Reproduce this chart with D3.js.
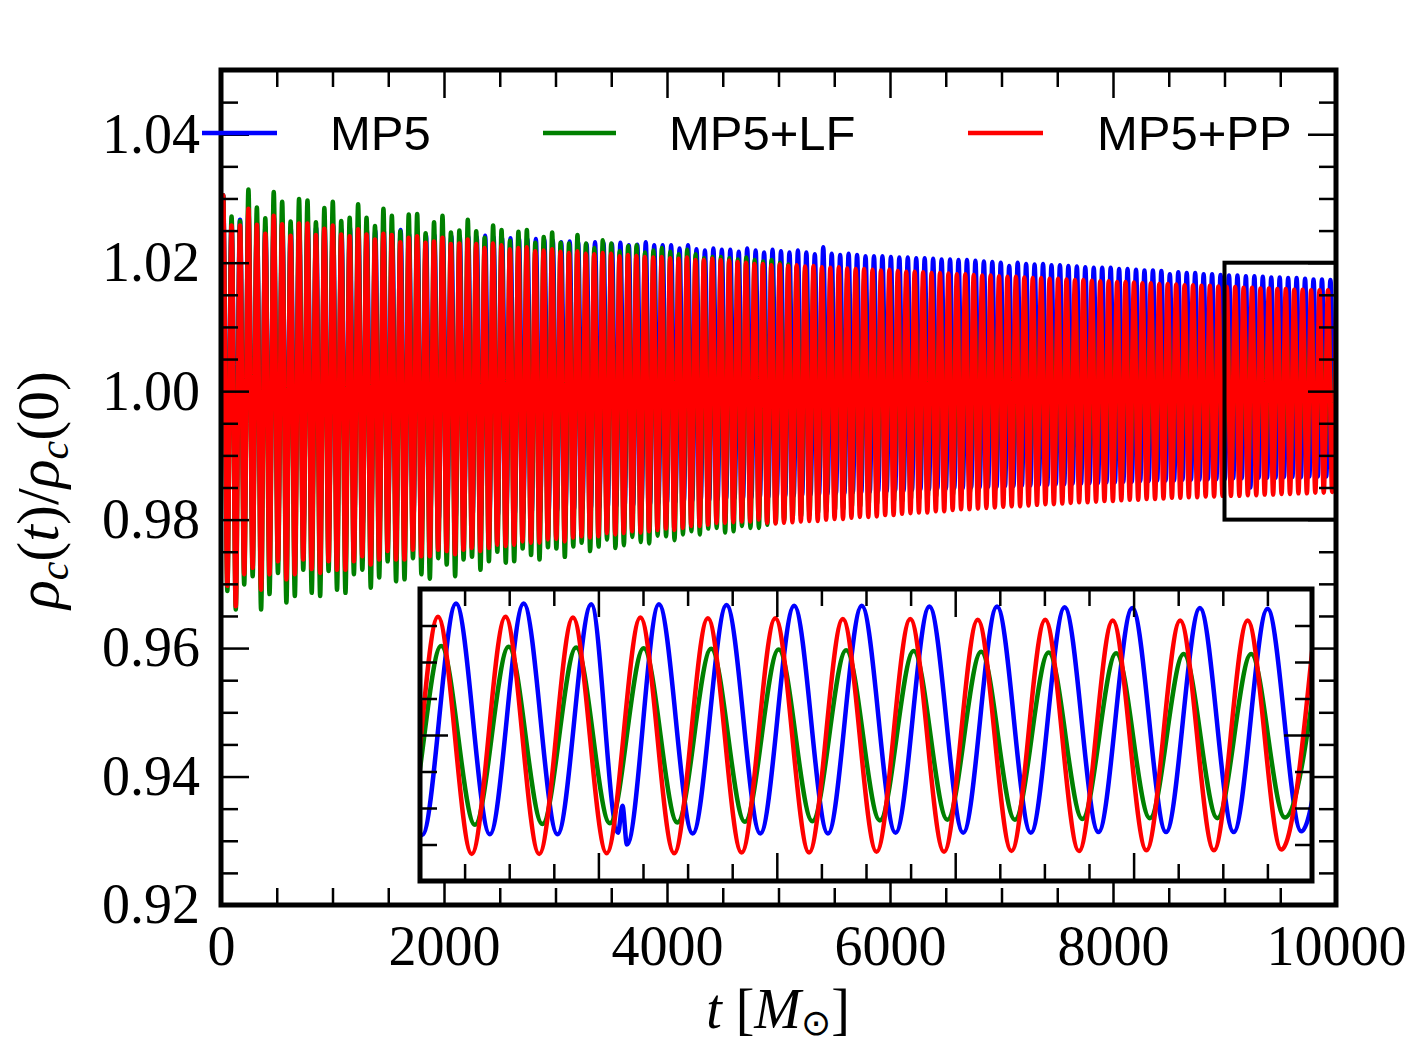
<!DOCTYPE html>
<html>
<head>
<meta charset="utf-8">
<script src="https://cdn.jsdelivr.net/npm/d3@7"></script>
<style>
  body { margin: 0; background: #fff; }
  svg { display: block; }
</style>
</head>
<body>
<svg id="chart" width="1415" height="1048"></svg>
<script>
// ---- data ----
// extrema of rho_c(t)/rho_c(0), stored as (value - 1) * 1e4, one entry per oscillation
// first maximum at t0, then alternating min / max every half period
var seriesNames = ["MP5", "MP5+LF", "MP5+PP"];
var seriesColors = ["#0000ff", "#008000", "#ff0000"];
var t0 = 19;
var periods = [75.81, 75.67, 75.64];

var blueMax = [305,262,267,280,262,255,270,262,255,262,260,255,258,260,252,255,256,252,250,252,
  250,251,245,245,243,243,242,242,241,241,240,242,240,239,238,238,237,237,236,235,
  232,233,232,229,232,231,229,231,227,228,232,227,227,227,222,227,221,219,222,220,
  220,217,222,219,216,220,
  218,216,219,216,213,224,214,212,214,212,
  210,210,210,209,208,208,207,207,206,205,
  205,204,204,203,202,201,200,195,200,198,
  197,198,196,196,195,194,193,192,192,192,
  190,190,189,188,188,187,182,185,184,184,
  182,182,181,180,180,179,179,178,177,177,
  176,176,175,174,174,173,172];
var blueMin = [-235,-230,-228,-226,-224,-222,-220,-219,-218,-217,
  -216,-215,-214,-213,-212,-211,-210,-209,-208,-207,
  -206,-205,-204,-203,-202,-201,-200,-199,-198,-197,
  -196,-195,-194,-193,-192,-191,-190,-189,-188,-187,
  -186,-185,-184,-183,-182,-181,-180,-179,-178,-177,
  -176,-175,-174,-173,-172,-171,-170,-170,-169,-168,
  -167,-167,-166,-165,-165,-164,-163,-163,-162,-161,
  -161,-160,-159,-159,-158,-158,-157,-156,-156,-155,
  -155,-154,-153,-153,-152,-152,-151,-151,-150,-150,
  -149,-149,-148,-148,-147,-147,-146,-146,-145,-145,
  -144,-144,-143,-143,-142,-142,-141,-141,-140,-140,
  -139,-139,-139,-138,-138,-138,-137,-137,-137,-136,
  -136,-136,-135,-135,-135,-134,-134,-134,-133,-133,
  -133,-132];
// small numerical glitch of MP5 near t = 9230 (seen in the inset)
var blueGlitchT = [9222, 9227, 9232];
var blueGlitchU = [-134, -97, -150];

var greenMax = [305,272,265,314,286,269,310,295,264,299,297,
  263,285,295,265,270,291,270,257,284,273,
  249,275,276,246,263,273,247,250,267,249,
  239,258,251,234,248,251,231,240,247,231,
  230,243,230,223,235,230,218,226,227,216,
  219,223,217,213,220,213,207,209,209,207,
  205,208,204,202,204,
  200,197,194,190,188,186,184,183,181,179,
  177,176,174,172,171,169,167,166,164,163,
  161,160,158,157,155,154,152,151,150,148,
  147,146,144,143,142,141,139,138,137,136,
  135,134,133,132,131,130,129,128,127,126,
  125,124,123,122,121,120,119,118,117,116,
  115,114,113,112,111,111,110];
var greenMin = [-311,-340,-301,-288,-340,-316,-283,-329,-319,-278,
  -314,-319,-280,-309,-314,-285,-278,-306,-290,-265,
  -296,-293,-260,-285,-292,-260,-270,-288,-262,-258,
  -278,-265,-250,-267,-265,-245,-255,-262,-243,-245,
  -258,-242,-236,-249,-242,-231,-244,-240,-227,-235,
  -237,-225,-226,-232,-223,-218,-223,-214,-213,-220,
  -218,-210,-213,-213,
  -208,-205,-201,-198,-195,-193,-190,-188,-186,-184,
  -182,-180,-178,-176,-174,-172,-171,-169,-167,-166,
  -164,-162,-161,-159,-158,-156,-155,-154,-152,-151,
  -150,-148,-147,-146,-145,-144,-142,-141,-140,-139,
  -138,-137,-136,-135,-134,-133,-132,-131,-130,-129,
  -128,-127,-126,-125,-124,-123,-122,-121,-120,-119,
  -118,-117,-116,-116,-115,-114,-114,-113];

var redMax = [305,258,258,284,259,245,273,260,242,261,
  261,243,253,258,244,241,252,244,236,245,
  243,232,239,241,231,233,239,229,230,236,
  229,223,230,227,221,223,224,218,219,221,
  217,215,218,214,213,215,214,210,212,211,
  209,208,209,207,206,208,204,204,206,204,
  203,201,200,198,198,196,
  197,195,196,194,195,193,192,193,191,190,
  190,189,188,189,187,186,186,185,184,184,
  183,182,182,181,180,180,179,178,178,177,
  176,176,175,175,174,173,173,172,171,171,
  170,170,169,168,168,167,167,166,165,165,
  164,164,163,162,162,161,161,160,160,159,
  159,158,158,157,157,157,156];
var redMin = [-303,-335,-285,-275,-309,-285,-265,-293,-285,-262,
  -277,-283,-265,-278,-278,-265,-257,-270,-262,-249,
  -262,-262,-247,-257,-257,-247,-249,-254,-247,-244,
  -249,-244,-239,-241,-239,-234,-236,-236,-231,-230,
  -234,-228,-226,-228,-226,-221,-223,-221,-218,-220,
  -218,-216,-214,-216,-213,-210,-210,-208,-205,-205,
  -204,-203,-203,-200,
  -205,-206,-205,-204,-203,-202,-202,-200,-199,-199,
  -197,-196,-196,-195,-193,-193,-191,-190,-189,-189,
  -187,-187,-185,-184,-184,-183,-182,-181,-180,-179,
  -179,-178,-177,-176,-176,-175,-174,-173,-173,-172,
  -171,-171,-170,-169,-169,-168,-168,-167,-166,-166,
  -165,-165,-164,-164,-163,-163,-163,-162,-162,-161,
  -161,-160,-160,-159,-159,-158,-158,-157];

var xTicksMajor = [0, 2000, 4000, 6000, 8000, 10000];
var yTicksMajor = [0.92, 0.94, 0.96, 0.98, 1.00, 1.02, 1.04];
var zoomT = [9000, 10000];
var zoomRho = [0.98, 1.02];

// ---- build point lists ----
function toPoints(period, maxU, minU, glitchT, glitchU) {
  var pts = [[0, 1 + maxU[0] / 1e4]];
  maxU.forEach(function(u, k) {
    pts.push([t0 + k * period, 1 + u / 1e4]);
    if (k < minU.length) pts.push([t0 + (k + 0.5) * period, 1 + minU[k] / 1e4]);
  });
  if (glitchT) {
    pts = pts.filter(function(p) { return p[0] < glitchT[0] - 6 || p[0] > glitchT[glitchT.length - 1] + 6; });
    glitchT.forEach(function(t, i) { pts.push([t, 1 + glitchU[i] / 1e4]); });
    pts.sort(function(a, b) { return a[0] - b[0]; });
  }
  return pts;
}
var series = [
  toPoints(periods[0], blueMax, blueMin, blueGlitchT, blueGlitchU),
  toPoints(periods[1], greenMax, greenMin),
  toPoints(periods[2], redMax, redMin)
];

// ---- layout ----
var svg = d3.select("#chart");
var L = 221, R = 1336, T = 70, B = 905;
var x = d3.scaleLinear().domain([0, 10000]).range([L, R]);
var y = d3.scaleLinear().domain([0.92, 1.05]).range([B, T]);

var serif = "'Liberation Serif', 'Times New Roman', serif";
var sans = "'Liberation Sans', Arial, sans-serif";

var defs = svg.append("defs");
defs.append("clipPath").attr("id", "clipMain")
  .append("rect").attr("x", L).attr("y", T).attr("width", R - L).attr("height", B - T);

var lineMain = d3.line()
  .x(function(d) { return x(d[0]); })
  .y(function(d) { return y(d[1]); })
  .curve(d3.curveMonotoneX);

svg.append("g").attr("clip-path", "url(#clipMain)")
  .selectAll("path").data(series).enter().append("path")
  .attr("d", lineMain)
  .attr("fill", "none")
  .attr("stroke", function(d, i) { return seriesColors[i]; })
  .attr("stroke-width", 4.5)
  .attr("stroke-linejoin", "round")
  .attr("stroke-linecap", "round");

// zoom box
svg.append("rect")
  .attr("x", x(zoomT[0])).attr("y", y(zoomRho[1]))
  .attr("width", x(zoomT[1]) - x(zoomT[0])).attr("height", y(zoomRho[0]) - y(zoomRho[1]))
  .attr("fill", "none").attr("stroke", "#000").attr("stroke-width", 4);

// inward ticks on all four sides
function inwardTicks(xs, ys, box, xMinor, xMajor, yMinor, yMajor) {
  var sides = [
    [d3.axisTop, xs, "translate(0," + box.b + ")", xMinor, xMajor],
    [d3.axisBottom, xs, "translate(0," + box.t + ")", xMinor, xMajor],
    [d3.axisRight, ys, "translate(" + box.l + ",0)", yMinor, yMajor],
    [d3.axisLeft, ys, "translate(" + box.r + ",0)", yMinor, yMajor]
  ];
  sides.forEach(function(s) {
    [[s[3], 17], [s[4], 28]].forEach(function(set) {
      svg.append("g").attr("transform", s[2])
        .call(s[0](s[1]).tickValues(set[0]).tickSize(set[1]).tickFormat(""))
        .call(function(g) {
          g.select(".domain").remove();
          g.selectAll("line").attr("stroke", "#000").attr("stroke-width", 2.5);
        });
    });
  });
}
var xMinorMain = d3.range(500, 10000, 500).filter(function(v) { return v % 2000 !== 0; });
var yMinorMain = d3.range(0, 27).map(function(i) { return +(0.92 + i * 0.005).toFixed(3); })
  .filter(function(v) { return Math.round(v * 1000) % 20 !== 0; });
inwardTicks(x, y, {l: L, r: R, t: T, b: B}, xMinorMain, xTicksMajor, yMinorMain, yTicksMajor);

svg.append("rect").attr("x", L).attr("y", T).attr("width", R - L).attr("height", B - T)
  .attr("fill", "none").attr("stroke", "#000").attr("stroke-width", 5);

// tick labels
svg.append("g").attr("transform", "translate(" + L + ",0)")
  .call(d3.axisLeft(y).tickValues(yTicksMajor).tickSize(0).tickPadding(21).tickFormat(d3.format(".2f")))
  .call(function(g) {
    g.select(".domain").remove();
    g.selectAll("text").attr("font-family", serif).attr("font-size", 56).attr("fill", "#000");
  });
svg.append("g").attr("transform", "translate(0," + B + ")")
  .call(d3.axisBottom(x).tickValues(xTicksMajor).tickSize(0).tickPadding(20).tickFormat(d3.format("d")))
  .call(function(g) {
    g.select(".domain").remove();
    g.selectAll("text").attr("font-family", serif).attr("font-size", 56).attr("fill", "#000");
  });

// ---- inset ----
var IL = 420, IR = 1312, IT = 589, IB = 881;
var xi = d3.scaleLinear().domain(zoomT).range([IL, IR]);
var yi = d3.scaleLinear().domain(zoomRho).range([IB, IT]);
defs.append("clipPath").attr("id", "clipInset")
  .append("rect").attr("x", IL).attr("y", IT).attr("width", IR - IL).attr("height", IB - IT);

svg.append("rect").attr("x", IL).attr("y", IT).attr("width", IR - IL).attr("height", IB - IT)
  .attr("fill", "#fff");

var lineInset = d3.line()
  .x(function(d) { return xi(d[0]); })
  .y(function(d) { return yi(d[1]); })
  .curve(d3.curveMonotoneX);

svg.append("g").attr("clip-path", "url(#clipInset)")
  .selectAll("path").data(series.map(function(s) {
    return s.filter(function(p) { return p[0] > zoomT[0] - 200; });
  })).enter().append("path")
  .attr("d", lineInset)
  .attr("fill", "none")
  .attr("stroke", function(d, i) { return seriesColors[i]; })
  .attr("stroke-width", 4.5)
  .attr("stroke-linejoin", "round");

var xMinorIn = d3.range(9050, 10000, 50).filter(function(v) { return v % 200 !== 0; });
var xMajorIn = [9200, 9400, 9600, 9800];
var yMinorIn = [0.985, 0.99, 0.995, 1.005, 1.01, 1.015];
inwardTicks(xi, yi, {l: IL, r: IR, t: IT, b: IB}, xMinorIn, xMajorIn, yMinorIn, [1.00]);

svg.append("rect").attr("x", IL).attr("y", IT).attr("width", IR - IL).attr("height", IB - IT)
  .attr("fill", "none").attr("stroke", "#000").attr("stroke-width", 5);

// ---- legend ----
var legendLines = [[202, 277], [543, 616], [968, 1043]];
var legendText = [330, 669, 1097];
var legend = svg.append("g");
seriesNames.forEach(function(name, i) {
  legend.append("line")
    .attr("x1", legendLines[i][0]).attr("x2", legendLines[i][1])
    .attr("y1", 133).attr("y2", 133)
    .attr("stroke", seriesColors[i]).attr("stroke-width", 4.5);
  legend.append("text")
    .attr("x", legendText[i]).attr("y", 150)
    .attr("font-family", sans).attr("font-size", 49)
    .attr("fill", "#000")
    .text(name);
});

// ---- axis titles ----
var yl = svg.append("text")
  .attr("transform", "translate(58,490) rotate(-90)")
  .attr("text-anchor", "middle")
  .attr("font-family", serif).attr("font-size", 60).attr("fill", "#000");
yl.append("tspan").attr("font-style", "italic").text("ρ");
yl.append("tspan").attr("font-style", "italic").attr("font-size", 42).attr("dy", 10).text("c");
yl.append("tspan").attr("dy", -10).text("(");
yl.append("tspan").attr("font-style", "italic").text("t");
yl.append("tspan").text(")/");
yl.append("tspan").attr("font-style", "italic").text("ρ");
yl.append("tspan").attr("font-style", "italic").attr("font-size", 42).attr("dy", 10).text("c");
yl.append("tspan").attr("dy", -10).text("(0)");

var xl = svg.append("text")
  .attr("x", 778).attr("y", 1028)
  .attr("text-anchor", "middle")
  .attr("font-family", serif).attr("font-size", 56).attr("fill", "#000");
xl.append("tspan").attr("font-style", "italic").text("t");
xl.append("tspan").text(" [");
xl.append("tspan").attr("font-style", "italic").text("M");
xl.append("tspan").attr("font-size", 36).attr("dy", 7).attr("font-family", "'DejaVu Sans', sans-serif").text("⊙");
xl.append("tspan").attr("dy", -7).text("]");
</script>
</body>
</html>
